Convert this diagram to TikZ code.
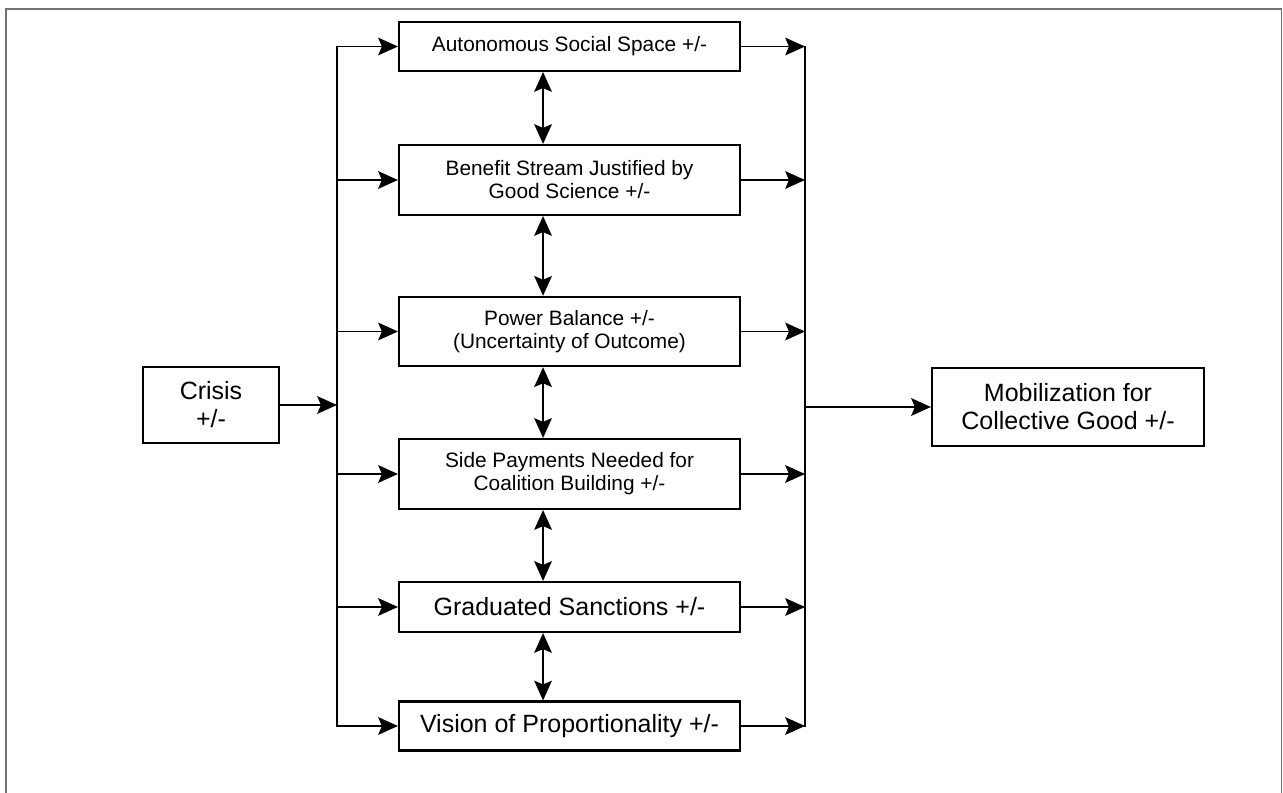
\documentclass[tikz,border=0pt]{standalone}
\usepackage{fontspec}
\setmainfont{Liberation Sans}
\usetikzlibrary{arrows.meta}
\tikzset{
  factor/.style={draw, line width=1pt, minimum width=163.7pt, align=center,
    inner sep=2pt, font=\fontsize{10}{11}\selectfont},
  bigfactor/.style={factor, font=\fontsize{12}{13.5}\selectfont},
  link/.style={line width=0.8pt, -{Stealth[length=9.5pt,width=8.5pt,inset=1.8pt]}},
  mutual/.style={line width=0.8pt,
    {Stealth[length=9.5pt,width=8.5pt,inset=1.8pt]}-{Stealth[length=9.5pt,width=8.5pt,inset=1.8pt]}},
  bus/.style={line width=0.8pt, line cap=rect},
}
\begin{document}
\begin{tikzpicture}[x=0.48pt,y=-0.48pt]
  \useasboundingbox (0,0) rectangle (1283,793);
  % page frame, open at the bottom
  \draw[black!55, line width=0.5pt] (6,793) -- (6,9) -- (1281,9) -- (1281,793);

  % middle column
  \node[factor, minimum height=23.5pt] (auto) at (569.5,46.5) {Autonomous Social Space +/-};
  \node[factor, minimum height=33.6pt] (bene) at (569.5,180) {Benefit Stream Justified by\\Good Science +/-};
  \node[factor, minimum height=33.3pt] (power) at (569.5,331.5) {Power Balance +/-\\(Uncertainty of Outcome)};
  \node[factor, minimum height=33.6pt] (side) at (569.5,474) {Side Payments Needed for\\Coalition Building +/-};
  \node[bigfactor, minimum height=24pt] (grad) at (569.5,607) {Graduated Sanctions +/-};
  \node[bigfactor, minimum height=23.5pt] (vision) at (569.5,726) {Vision of Proportionality +/-};

  % left and right
  \node[bigfactor, minimum width=65.3pt, minimum height=36.5pt] (crisis) at (211,405) {Crisis\\+/-};
  \node[bigfactor, minimum width=130.6pt, minimum height=37.4pt] (mobil) at (1068,407) {Mobilization for\\Collective Good +/-};

  % the two buses
  \coordinate (inTop) at (337,46.5);
  \coordinate (inBot) at (337,726);
  \coordinate (outTop) at (805,46.5);
  \coordinate (outBot) at (805,726);
  \draw[bus] (inTop) -- (inBot);
  \draw[bus] (outTop) -- (outBot);

  \foreach \b in {auto,bene,power,side,grad,vision} {
    \draw[link] (\b.west -| inTop) -- (\b.west);
    \draw[link] (\b.east) -- (\b.east -| outTop);
  }
  \draw[link] (crisis.east) -- (crisis.east -| inTop);
  \draw[link] (mobil.west -| outTop) -- (mobil.west);

  \foreach \a/\b in {auto/bene,bene/power,power/side,side/grad,grad/vision}
    \draw[mutual] ([xshift=-12.7pt]\a.south) -- ([xshift=-12.7pt]\b.north);
\end{tikzpicture}
\end{document}
